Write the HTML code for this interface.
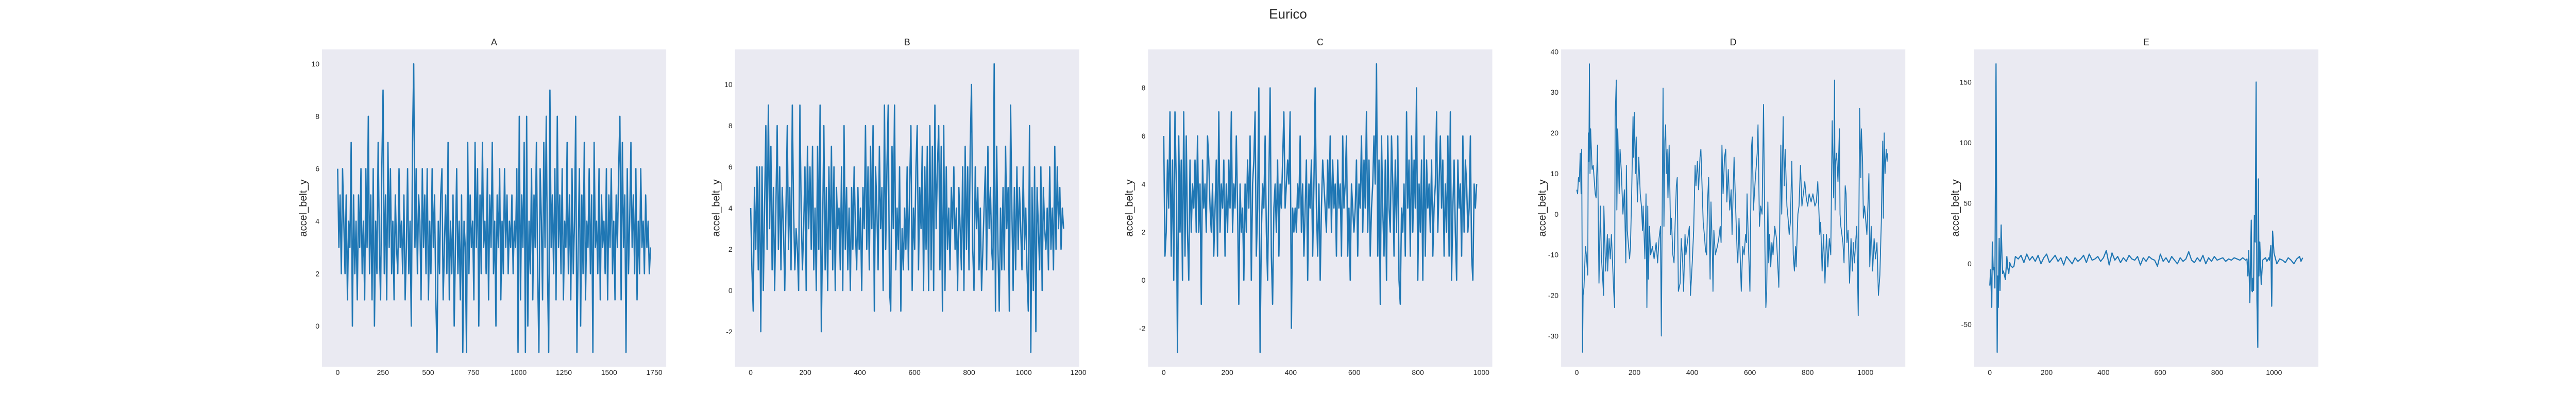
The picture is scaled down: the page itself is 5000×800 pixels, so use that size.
<!DOCTYPE html>
<html><head><meta charset="utf-8"><style>
html,body{margin:0;padding:0;background:#fff;}
svg{display:block;}
text{font-family:"Liberation Sans",Arial,sans-serif;fill:#262626;}
</style></head><body>
<svg id="fig" width="5000" height="800" viewBox="0 0 5000 800" xmlns="http://www.w3.org/2000/svg">
<text x="2500" y="36" font-size="26" text-anchor="middle">Eurico</text>
</svg>
<script>
const panelTitles = ["A","B","C","D","E"];
const yLabel = "accel_belt_y";
const aTicksX = [0,250,500,750,1000,1250,1500,1750];
const aTicksY = [0,2,4,6,8,10];
const bTicksX = [0,200,400,600,800,1000,1200];
const bTicksY = [-2,0,2,4,6,8,10];
const cTicksX = [0,200,400,600,800,1000];
const cTicksY = [-2,0,2,4,6,8];
const dTicksX = [0,200,400,600,800,1000];
const dTicksY = [-30,-20,-10,0,10,20,30,40];
const eTicksX = [0,200,400,600,800,1000];
const eTicksY = [-50,0,50,100,150];
const aLastX = 1729;
const bLastX = 1146;
const cLastX = 985;
const aValues = [6,3,5,2,6,4,2,5,1,4,3,7,0,5,2,4,1,5,3,6,2,4,1,6,3,
8,2,5,1,6,0,4,2,7,3,1,6,9,2,5,1,7,3,6,2,4,1,5,3,2,
6,3,4,2,5,1,3,6,2,4,0,7,10,3,6,2,5,4,1,6,3,5,2,6,1,
4,2,6,3,5,1,-1,4,2,5,6,1,3,5,2,7,1,4,2,5,0,3,6,2,4,
1,5,-1,4,3,-1,7,2,5,3,4,1,7,3,6,0,5,2,7,3,4,2,6,1,5,
3,7,2,4,0,5,3,6,1,4,2,6,3,5,2,4,3,5,2,4,3,6,-1,8,1,
5,3,7,-1,8,0,4,2,6,1,5,3,7,2,-1,6,4,1,7,3,8,2,-1,9,3,
5,2,6,1,8,3,5,2,6,1,4,3,7,2,5,1,6,2,4,8,-1,3,6,0,5,
2,7,1,4,3,6,2,5,-1,7,3,4,2,6,1,5,3,4,2,6,1,5,3,6,2,
4,1,5,3,6,8,1,7,3,5,-1,6,2,4,7,3,5,2,6,1,4,2,6,3,4,2,5,3,4,2,3];
const bValues = [4,1,-1,5,2,6,1,6,-2,6,0,4,8,2,9,3,7,1,5,0,4,8,2,
6,1,5,3,0,4,8,2,5,1,9,4,1,3,2,0,9,4,1,3,6,0,7,3,6,2,
7,1,4,0,7,2,9,-2,3,8,1,5,0,6,2,7,1,6,0,5,3,4,1,6,0,
8,2,5,1,4,0,5,2,6,3,1,5,2,4,0,5,3,8,2,6,1,7,3,8,-1,
6,4,1,7,3,5,0,9,2,6,9,0,-1,7,3,9,1,4,2,6,-1,3,1,4,2,
6,1,5,8,0,4,2,6,8,1,5,3,7,0,6,2,7,0,8,1,7,0,9,3,6,
8,1,7,-1,8,0,6,2,4,1,5,3,6,2,4,0,5,3,1,6,0,7,2,6,1,
7,10,2,0,6,3,5,1,4,0,2,4,6,1,7,3,5,2,1,11,-1,7,2,-1,
4,1,5,1,7,3,5,-1,9,4,0,5,1,6,2,5,3,1,6,2,4,1,-1,8,
-3,5,0,6,-2,5,3,1,6,0,5,3,2,4,1,6,2,4,1,7,2,6,3,5,2,4,3];
const cValues = [6,1,2,5,3,7,1,5,0,7,4,-3,6,2,5,0,7,1,6,2,0,5,2,4,3,
5,2,6,2,4,-1,5,3,4,2,6,5,3,2,4,1,3,5,1,7,2,4,3,5,1,
4,2,5,3,7,2,4,3,6,3,-1,4,2,3,0,4,2,5,3,6,0,4,5,7,1,
3,8,-3,2,4,3,6,2,0,4,8,1,-1,3,4,2,5,1,4,3,5,7,3,4,5,
4,7,-2,3,2,3,2,4,3,6,2,4,1,3,5,0,4,3,5,1,4,8,3,1,4,
0,3,5,4,3,2,5,3,6,2,5,3,4,1,5,3,4,1,6,3,4,6,1,3,0,
4,3,2,3,5,1,4,3,6,2,5,3,7,2,5,1,3,4,6,4,9,1,5,-1,
6,3,1,5,0,6,3,2,6,4,1,5,2,6,0,-1,3,2,4,1,7,3,5,1,6,
2,5,3,8,0,4,2,5,0,6,1,5,3,4,2,5,1,3,4,7,2,4,6,3,5,
1,4,2,6,1,7,0,3,5,2,0,5,3,4,1,6,2,5,4,2,3,6,1,0,4,3,4];
const dX = [0,3,6,9,12,15,17,20,22,25,30,33,38,40,42,44,46,48,53,57,64,67,72,75,77,82,85,93,94,100,106,107,112,116,120,128,131,133,137,139,142,147,150,154,160,165,170,172,175,183,186,190,195,197,200,203,206,210,215,220,224,228,230,236,240,243,246,248,252,256,262,268,275,280,285,290,293,299,302,305,308,310,313,316,320,325,328,333,337,341,345,348,352,358,362,367,370,375,378,383,390,394,400,405,410,413,418,422,427,430,438,442,446,450,453,457,462,465,470,472,475,480,487,492,497,500,503,507,512,516,520,525,530,535,538,545,552,556,558,562,570,575,580,585,588,590,595,600,605,608,612,618,625,628,633,637,642,647,652,655,658,662,665,668,672,676,680,686,692,700,707,710,715,719,722,728,732,736,740,745,750,754,758,760,766,770,775,780,785,790,795,800,805,812,818,825,830,835,842,845,850,855,860,865,870,875,880,885,890,893,895,897,900,905,910,912,915,922,926,930,933,936,940,945,950,955,958,962,965,970,975,980,984,986,990,993,997,1005,1010,1012,1015,1020,1025,1030,1035,1040,1045,1050,1055,1060,1062,1065,1068,1072,1075,1077,1080,1084];
const dY = [6,5,9,8,15,5,16,-34,-20,-18,-8,-10,-15,20,13,37,10,21,11,12,5,4,17,-4,-17,2,-10,-20,2,-14,-5,-14,-6,-11,-5,-19,-23,24,33,1,21,5,16,11,0,6,-12,12,-4,-11,-8,4,24,14,25,10,19,3,14,5,2,-4,2,-11,5,-23,2,-16,-3,-10,-8,-11,-7,-12,-6,-3,-30,31,-3,18,22,10,16,4,17,-5,-1,-10,-12,-2,7,9,-19,-17,-6,-12,-19,-5,-10,-7,-3,-20,-12,-4,12,7,13,6,14,16,-2,-5,-9,-10,3,9,-16,3,-10,-19,-4,-10,-8,-6,-3,-7,17,5,14,16,3,11,1,6,-5,14,-2,-10,-12,-1,-19,-8,-10,-5,-7,5,-8,-19,16,19,1,8,15,22,-3,2,0,27,-9,-23,-19,3,-12,-5,-13,-7,-10,-3,-6,-18,17,0,24,7,16,2,-1,-5,-2,13,-10,-14,-8,-13,0,2,12,2,5,8,4,2,5,3,5,2,3,8,-5,-2,-14,-5,-17,-5,-13,-6,-10,23,4,33,1,13,15,8,21,0,-3,-7,-12,7,5,-7,-4,-17,-6,-14,-7,-12,-8,-3,-25,26,9,21,13,-1,2,-5,5,10,-13,-3,-14,-6,-11,-7,-20,-15,-2,18,-1,20,10,16,13,15];
const eX = [0,3,7,9,12,15,18,22,26,28,30,33,36,40,43,45,48,52,55,60,63,67,70,75,80,85,90,100,110,120,130,140,150,160,170,180,190,200,210,220,230,240,250,260,270,280,290,300,310,320,330,340,350,360,370,380,390,400,410,420,430,440,450,460,470,480,490,500,510,520,530,540,550,560,570,580,590,600,610,620,630,640,650,660,670,680,690,700,710,720,730,740,750,760,770,780,790,800,810,820,830,840,850,860,870,880,890,900,905,908,911,915,920,922,924,926,928,931,934,937,940,943,945,947,950,955,960,965,970,975,982,984,989,992,995,1000,1010,1020,1030,1040,1050,1060,1070,1080,1090,1095,1101];
const eY = [-18,-5,-36,18,-5,-3,-20,165,-73,-10,-36,21,-22,32,5,-8,-6,-10,-13,6,-3,-8,1,-2,-3,-2,6,4,7,1,8,3,6,2,7,0,5,8,1,4,7,2,5,-1,6,3,0,5,2,4,7,1,8,3,4,6,2,5,11,-1,9,3,6,1,5,2,7,4,3,6,-1,5,2,6,4,3,-2,8,2,5,1,6,3,0,5,2,4,10,3,1,5,2,7,0,5,2,6,3,4,5,2,4,3,5,4,3,5,3,4,-10,11,-32,36,-22,-23,-12,-22,40,18,150,-30,-69,70,-10,18,-17,3,4,5,2,5,3,15,-35,27,9,0,4,3,1,5,3,0,4,6,2,5,1,8,5];

const fig = document.getElementById('fig');
const NS = 'http://www.w3.org/2000/svg';
const AX_LEFT0 = 625, AX_W = 668.1, AX_GAP = 133.6, AX_TOP = 96, AX_BOTTOM = 712;
const lineWidths = [2.6, 2.6, 2.6, 1.8, 2.2];

function el(tag, attrs, parent){
  const e = document.createElementNS(NS, tag);
  for (const k in attrs) e.setAttribute(k, attrs[k]);
  parent.appendChild(e);
  return e;
}
function idxX(vals, lastX){ return vals.map((v,i)=> i*lastX/(vals.length-1)); }

const panels = [
  {xs: idxX(aValues,aLastX), ys: aValues, tx: aTicksX, ty: aTicksY},
  {xs: idxX(bValues,bLastX), ys: bValues, tx: bTicksX, ty: bTicksY},
  {xs: idxX(cValues,cLastX), ys: cValues, tx: cTicksX, ty: cTicksY},
  {xs: dX, ys: dY, tx: dTicksX, ty: dTicksY},
  {xs: eX, ys: eY, tx: eTicksX, ty: eTicksY}
];

panels.forEach((p, k) => {
  const left = AX_LEFT0 + k*(AX_W+AX_GAP);
  const g = el('g', {}, fig);
  
  
  const xmin = Math.min(...p.xs), xmax = Math.max(...p.xs);
  const ymin = Math.min(...p.ys), ymax = Math.max(...p.ys);
  const xm = (xmax-xmin)*0.05, ym = (ymax-ymin)*0.05;
  const x0 = xmin-xm, x1 = xmax+xm, y0 = ymin-ym, y1 = ymax+ym;
  const sx = v => left + (v-x0)/(x1-x0)*AX_W;
  const sy = v => AX_BOTTOM - (v-y0)/(y1-y0)*(AX_BOTTOM-AX_TOP);
  const bg = el('rect', {x:left, y:AX_TOP, width:AX_W, height:AX_BOTTOM-AX_TOP, fill:'#EAEAF2'}, g);
  
  
  const title = el('text', {x:left+AX_W/2, y:88, 'font-size':18, 'text-anchor':'middle'}, g);
  title.textContent = panelTitles[k];
  
  
  const yl = el('text', {x:0, y:0, 'font-size':20, 'text-anchor':'middle', transform:`translate(${left-30},${(AX_TOP+AX_BOTTOM)/2}) rotate(-90)`}, g);
  yl.textContent = yLabel;
  
  
  p.tx.forEach(t => {
    const tt = el('text', {x:sx(t), y:728, 'font-size':14, 'text-anchor':'middle'}, g);
    tt.textContent = String(t);
    
    
  });
  p.ty.forEach(t => {
    const tt = el('text', {x:left-5, y:sy(t)+5, 'font-size':14, 'text-anchor':'end'}, g);
    tt.textContent = String(t);
    
    
  });
  const d = p.xs.map((x,i)=> (i?'L':'M') + sx(x).toFixed(1) + ' ' + sy(p.ys[i]).toFixed(1)).join('');
  const line = el('path', {d:d, fill:'none', stroke:'#1f77b4', 'stroke-width': lineWidths[k], 'stroke-linejoin':'round'}, g);
  
  
});
</script>
</body></html>
